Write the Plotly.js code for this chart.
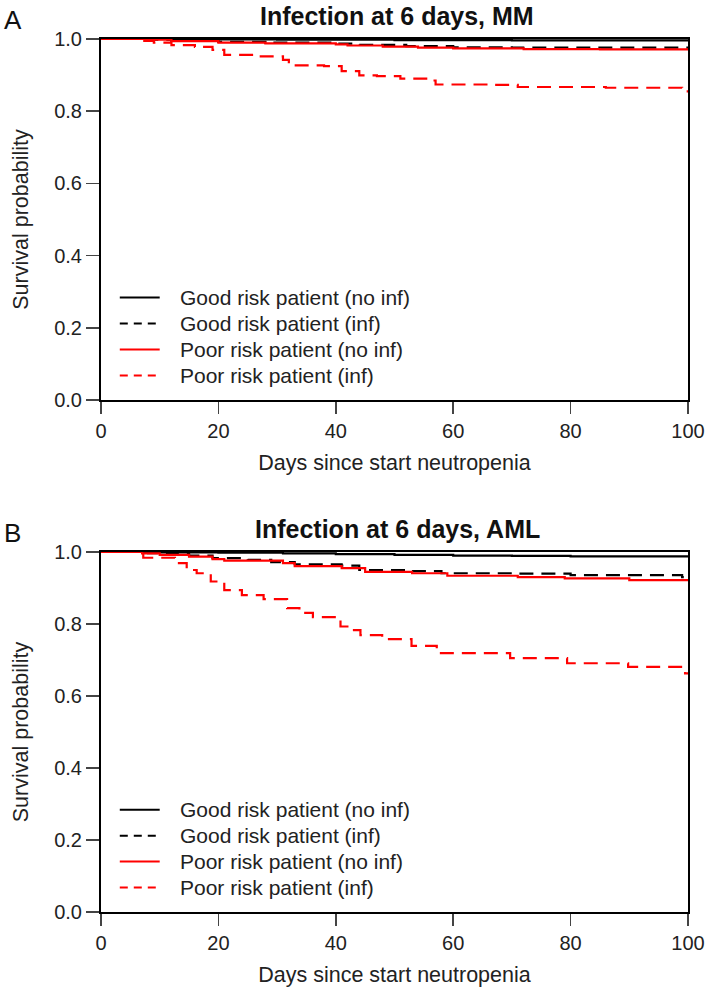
<!DOCTYPE html>
<html>
<head>
<meta charset="utf-8">
<script src="https://cdn.plot.ly/plotly-3.0.1.min.js"></script>
<style>
  html, body { margin: 0; padding: 0; background: #fff; }
  #chart { width: 709px; height: 992px; }
</style>
</head>
<body>
<div id="chart"></div>
<script>
// Kaplan-Meier style step curves.
// Panel A: infection at 6 days, MM
const mmGoodNoInfDays = [0, 15, 30, 50, 70, 100];
const mmGoodNoInfSurv = [1.0, 0.999, 0.998, 0.997, 0.996, 0.995];

const mmGoodInfDays = [0, 8, 12, 20, 28, 40, 44, 52, 60, 70, 100];
const mmGoodInfSurv = [1.0, 0.998, 0.995, 0.992, 0.99, 0.987, 0.984, 0.98, 0.977, 0.976, 0.974];

const mmPoorNoInfDays = [0, 8, 12, 20, 28, 40, 42, 48, 54, 60, 72, 85, 100];
const mmPoorNoInfSurv = [1.0, 0.998, 0.994, 0.99, 0.988, 0.985, 0.982, 0.979, 0.976, 0.974, 0.972, 0.971, 0.968];

const mmPoorInfDays = [0, 7, 9, 12, 16, 19, 21, 26, 31, 32, 38, 41, 44, 47, 51, 56, 57, 66, 71, 86, 99, 100];
const mmPoorInfSurv = [1.0, 0.995, 0.99, 0.983, 0.978, 0.97, 0.956, 0.952, 0.942, 0.927, 0.925, 0.911, 0.899, 0.897, 0.89, 0.885, 0.874, 0.873, 0.867, 0.865, 0.855, 0.855];

// Panel B: infection at 6 days, AML
const amlGoodNoInfDays = [0, 10, 20, 31, 40, 50, 60, 70, 80, 100];
const amlGoodNoInfSurv = [1.0, 0.999, 0.998, 0.996, 0.994, 0.992, 0.99, 0.989, 0.988, 0.986];

const amlGoodInfDays = [0, 8, 12, 15, 19, 25, 29, 33, 41, 44, 52, 58, 70, 80, 99, 100];
const amlGoodInfSurv = [1.0, 0.997, 0.994, 0.99, 0.983, 0.978, 0.972, 0.966, 0.962, 0.95, 0.947, 0.941, 0.94, 0.936, 0.93, 0.93];

const amlPoorNoInfDays = [0, 7, 10, 15, 19, 21, 31, 33, 41, 45, 53, 59, 71, 79, 90, 100];
const amlPoorNoInfSurv = [1.0, 0.996, 0.992, 0.987, 0.98, 0.976, 0.969, 0.961, 0.955, 0.945, 0.941, 0.934, 0.93, 0.927, 0.922, 0.922];

const amlPoorInfDays = [0, 7.2, 12.6, 14.6, 16.3, 18.7, 21, 24, 27.7, 31.7, 33.8, 36.1, 40.8, 42.8, 44.2, 47.9, 52.9, 57.2, 69.7, 79.4, 89.8, 99.5, 100];
const amlPoorInfSurv = [1.0, 0.984, 0.969, 0.95, 0.941, 0.918, 0.894, 0.88, 0.869, 0.844, 0.831, 0.819, 0.793, 0.783, 0.769, 0.758, 0.739, 0.719, 0.705, 0.691, 0.681, 0.663, 0.663];

const seriesNames = [
  'Good risk patient (no inf)',
  'Good risk patient (inf)',
  'Poor risk patient (no inf)',
  'Poor risk patient (inf)',
];
const seriesColors = ['#000000', '#000000', '#ff0000', '#ff0000'];
const seriesDash = ['solid', '14px,8px', 'solid', '14px,8px'];
const keyDash = ['solid', '8px,6px', 'solid', '8px,6px'];

const panelTitles = ['Infection at 6 days, MM', 'Infection at 6 days, AML'];
const panelLetters = ['A', 'B'];
const xTitle = 'Days since start neutropenia';
const yTitle = 'Survival probability';

const FONT = 'Liberation Sans, Arial, sans-serif';
const W = 709;
const H = 992;

const panels = [
  {
    days: [mmGoodNoInfDays, mmGoodInfDays, mmPoorNoInfDays, mmPoorInfDays],
    surv: [mmGoodNoInfSurv, mmGoodInfSurv, mmPoorNoInfSurv, mmPoorInfSurv],
    top: 39, bottom: 400,
  },
  {
    days: [amlGoodNoInfDays, amlGoodInfDays, amlPoorNoInfDays, amlPoorInfDays],
    surv: [amlGoodNoInfSurv, amlGoodInfSurv, amlPoorNoInfSurv, amlPoorInfSurv],
    top: 552, bottom: 912,
  },
];

const px = (x) => x / W;
const py = (y) => 1 - y / H;

const traces = [];
panels.forEach((p, pi) => {
  const sfx = pi === 0 ? '' : '2';
  seriesNames.forEach((name, si) => {
    traces.push({
      x: p.days[si],
      y: p.surv[si],
      name: name,
      type: 'scatter',
      mode: 'lines',
      line: {shape: 'hv', color: seriesColors[si], width: 2.2, dash: seriesDash[si]},
      xaxis: 'x' + sfx,
      yaxis: 'y' + sfx,
      showlegend: false,
      hoverinfo: 'skip',
    });
  });
});

function xAxis(anchor) {
  return {
    domain: [px(101), px(688)],
    anchor: anchor,
    range: [0, 100],
    tickvals: [0, 20, 40, 60, 80, 100],
    ticks: 'outside',
    ticklen: 12,
    tickwidth: 1.5,
    tickcolor: '#444',
    showline: true,
    linecolor: '#000',
    linewidth: 2,
    mirror: true,
    showgrid: false,
    zeroline: false,
    layer: 'below traces',
    tickfont: {family: FONT, size: 20, color: '#222'},
    title: {text: xTitle, font: {family: FONT, size: 21.5, color: '#222'}, standoff: 14},
  };
}

function yAxis(anchor, top, bottom) {
  return {
    domain: [py(bottom), py(top)],
    anchor: anchor,
    range: [0, 1],
    tickvals: [0, 0.2, 0.4, 0.6, 0.8, 1.0],
    tickformat: '.1f',
    ticks: 'outside',
    ticklen: 13,
    tickwidth: 1.5,
    tickcolor: '#444',
    showline: true,
    linecolor: '#000',
    linewidth: 2,
    mirror: true,
    showgrid: false,
    zeroline: false,
    layer: 'below traces',
    tickfont: {family: FONT, size: 20, color: '#222'},
    title: {text: yTitle, font: {family: FONT, size: 21.5, color: '#222'}, standoff: 20},
  };
}

// legend keys: rows placed inside the lower-left of each plot box
const keyRows = [0.284, 0.212, 0.14, 0.068];
const shapes = [];
const annotations = [];
panels.forEach((p, pi) => {
  const sfx = pi === 0 ? '' : '2';
  annotations.push({
    text: '<b>' + panelTitles[pi] + '</b>',
    xref: 'paper', yref: 'paper',
    x: px(397), y: py(p.top - 39),
    xanchor: 'center', yanchor: 'top',
    showarrow: false,
    font: {family: FONT, size: 25, color: '#111'},
  });
  annotations.push({
    text: panelLetters[pi],
    xref: 'paper', yref: 'paper',
    x: px(2), y: py(p.top - 19),
    xanchor: 'left', yanchor: 'middle',
    showarrow: false,
    font: {family: FONT, size: 26, color: '#111'},
  });
  seriesNames.forEach((name, si) => {
    shapes.push({
      type: 'line',
      xref: 'x' + sfx + ' domain', yref: 'y' + sfx + ' domain',
      x0: 0.032, x1: 0.1, y0: keyRows[si], y1: keyRows[si],
      line: {color: seriesColors[si], width: 2, dash: keyDash[si]},
    });
    annotations.push({
      text: name,
      xref: 'x' + sfx + ' domain', yref: 'y' + sfx + ' domain',
      x: 0.131, y: keyRows[si],
      xanchor: 'left', yanchor: 'middle',
      showarrow: false,
      font: {family: FONT, size: 21, color: '#222'},
    });
  });
});

const layout = {
  width: W,
  height: H,
  margin: {l: 0, r: 0, t: 0, b: 0},
  paper_bgcolor: '#fff',
  plot_bgcolor: '#fff',
  showlegend: false,
  xaxis: xAxis('y'),
  yaxis: yAxis('x', panels[0].top, panels[0].bottom),
  xaxis2: xAxis('y2'),
  yaxis2: yAxis('x2', panels[1].top, panels[1].bottom),
  shapes: shapes,
  annotations: annotations,
};

Plotly.newPlot('chart', traces, layout, {staticPlot: true, displayModeBar: false});
</script>
</body>
</html>
